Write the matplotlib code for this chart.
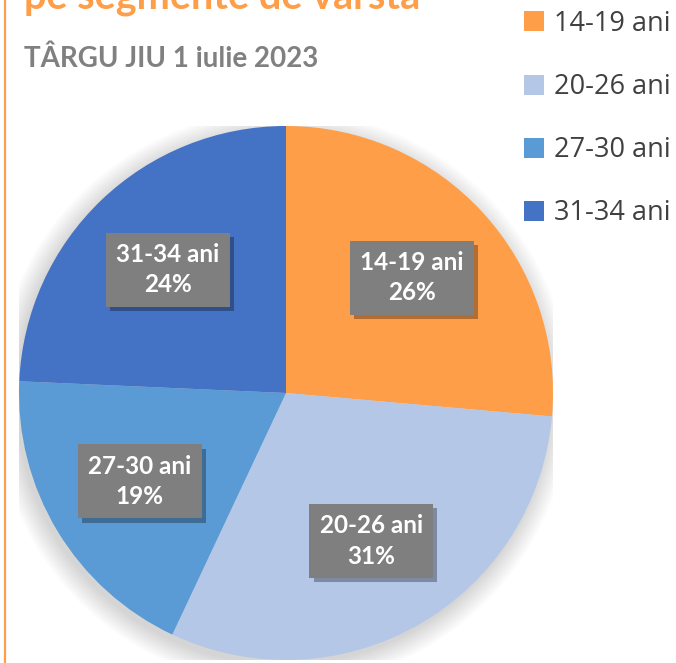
import matplotlib.pyplot as plt
import matplotlib.patheffects as pe
from matplotlib.patches import Circle

# date
categorii = ["14-19 ani", "20-26 ani", "27-30 ani", "31-34 ani"]
valori = [26.4, 30.6, 18.7, 24.3]
culori = ["#FF9E48", "#B4C7E7", "#5B9BD5", "#4472C4"]

titlu = "pe segmente de vârstă"
subtitlu = "TÂRGU JIU 1 iulie 2023"

plt.rcParams['font.family'] = ['Lato', 'DejaVu Sans']

W, H = 676, 663
fig = plt.figure(figsize=(W / 100, H / 100), dpi=100)

# pie axes: center (286,393) px, radius 267 px
cx, cy, r = 286, 393, 267
ax = fig.add_axes([(cx - r) / W, (H - cy - r) / H, 2 * r / W, 2 * r / H])
ax.axis('off')

# soft shadow under the pie
for i in range(14):
    ax.add_patch(Circle((-0.012, -0.02), 1.0 + 0.006 * i, color='black',
                        alpha=0.013, lw=0, zorder=0))

wedges, texts, autotexts = ax.pie(valori, colors=culori, startangle=90,
                                  counterclock=False, radius=1.0,
                                  autopct='%.0f%%', pctdistance=0.64,
                                  wedgeprops=dict(linewidth=0),
                                  textprops=dict(color='white', fontsize=17.5,
                                                 fontweight='bold'))
ax.set_xlim(-1, 1)
ax.set_ylim(-1, 1)
ax.set_aspect('equal')
for w in wedges:
    w.set_zorder(2)
for t, lab in zip(autotexts, categorii):
    t.set_text(lab + "\n" + t.get_text())
    t.set_ha('center')
    t.set_multialignment('center')
    t.set_linespacing(1.4)
    t.set_zorder(5)
    t.set_bbox(dict(boxstyle='square,pad=0.42', fc='#7F7F7F', ec='none'))
    t.get_bbox_patch().set_path_effects([
        pe.withSimplePatchShadow(offset=(3, -3), shadow_rgbFace='black', alpha=0.3),
        pe.Normal()])

# legend
leg = fig.legend(wedges, categorii, loc='upper left',
                 bbox_to_anchor=(513 / W, 1 + 1 / H), frameon=False,
                 fontsize=19.5, labelspacing=1.3, handlelength=0.75,
                 handleheight=0.75, handletextpad=0.35, borderaxespad=0)
for t in leg.get_texts():
    t.set_color('#404040')
    t.set_fontfamily(['Open Sans', 'DejaVu Sans'])

# titles
fig.text(24 / W, 1 - 9 / H, titlu, color='#FF9E48', fontsize=28.5,
         fontweight='bold', ha='left', va='baseline')
fig.text(24 / W, 1 - 67 / H, subtitlu, color='#808080', fontsize=20,
         fontweight='bold', ha='left', va='baseline')

# orange left border line
fig.add_artist(plt.Line2D([4.5 / W, 4.5 / W], [0, 1], color='#FF9E48', lw=1.6))

fig.savefig('out.png', dpi=100)
